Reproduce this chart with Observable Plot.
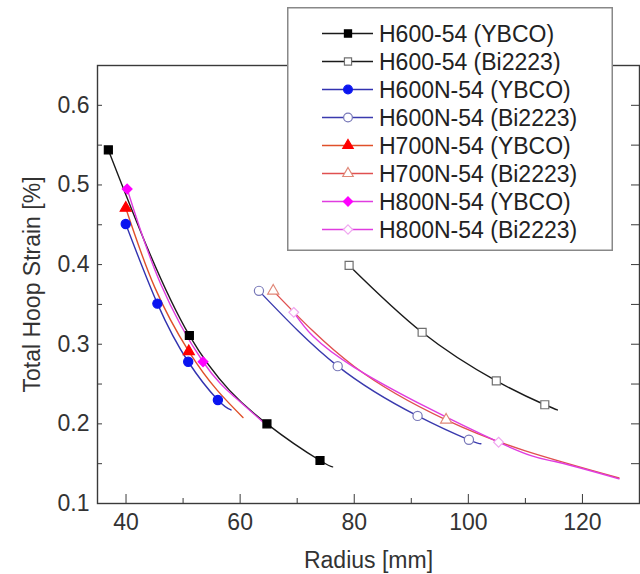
<!DOCTYPE html>
<html><head><meta charset="utf-8">
<script src="https://cdn.jsdelivr.net/npm/d3@7"></script>
<script src="https://cdn.jsdelivr.net/npm/@observablehq/plot@0.6"></script>
<style>
body{margin:0;background:#fff;}
#wrap{position:relative;width:640px;height:574px;overflow:hidden;}
#legend{position:absolute;left:287px;top:7px;}
</style>
</head><body><div id="wrap"></div>
<script>
const seriesLabels = ["H600-54 (YBCO)","H600-54 (Bi2223)","H600N-54 (YBCO)","H600N-54 (Bi2223)","H700N-54 (YBCO)","H700N-54 (Bi2223)","H800N-54 (YBCO)","H800N-54 (Bi2223)"];
const markerX = [[36.9,51.1,64.7,74.0],[79.1,91.9,104.9,113.4],[39.95,45.5,50.9,56.1],[63.3,77.1,91.1,100.1],[39.95,51.0],[65.8,96.1],[40.2,53.5],[69.4,105.3]];
const markerY = [[0.544,0.311,0.200,0.154],[0.399,0.315,0.254,0.224],[0.451,0.351,0.278,0.230],[0.367,0.2725,0.210,0.180],[0.471,0.291],[0.367,0.205],[0.495,0.278],[0.340,0.177]];
const curveX = [[36.9,51.1,64.7,74.0,76.2],[79.1,91.9,104.9,113.4,115.6],[39.95,45.5,50.9,56.1,58.4],[63.3,77.1,91.1,100.1,102.2],[39.95,45,51.0,56,60.5],[65.8,80,96.1,110,126.4],[40.2,46,53.5,59,64.2],[69.4,80,105.3,115,126.4]];
const curveY = [[0.544,0.311,0.200,0.154,0.146],[0.399,0.315,0.254,0.224,0.2175],[0.451,0.351,0.278,0.230,0.2175],[0.367,0.2725,0.210,0.180,0.175],[0.471,0.372,0.291,0.242,0.208],[0.367,0.272,0.205,0.166,0.132],[0.495,0.377,0.278,0.234,0.201],[0.340,0.271,0.177,0.153,0.131]];
const lineColors = ["#1a1a1a","#1a1a1a","#3232b0","#3a3aae","#e0502a","#e05050","#e03ce0","#e03ce0"];
const markerSymbols = ["square","square","circle","circle","triangle","triangle","diamond2","diamond2"];
const markerFills = ["#000000","#ffffff","#0a14f0","#ffffff","#ff0000","#ffffff","#ff00ff","#ffffff"];
const markerStrokes = ["#000000","#707070","#0a14f0","#7878b8","#ff0000","#e08878","#ff00ff","#f0a8f0"];
const markerR = [4.5,4.5,4.6,4.6,4.1,4.1,4.4,4.4];
const xMajorTicks = [40,60,80,100,120];
const xMinorTicks = [50,70,90,110];
const yMajorTicks = [0.1,0.2,0.3,0.4,0.5,0.6];
const yAllTicks = [0.1,0.15,0.2,0.25,0.3,0.35,0.4,0.45,0.5,0.55,0.6];

const lineTables = curveX.map((xs,i)=>xs.map((x,j)=>({x, y: curveY[i][j]})));
const dotTables = markerX.map((xs,i)=>xs.map((x,j)=>({x, y: markerY[i][j]})));

const marks = [];
lineTables.forEach((t,i)=>{
  marks.push(Plot.line(t,{x:"x",y:"y",stroke:lineColors[i],strokeWidth:1.4,curve:"natural"}));
});
dotTables.forEach((t,i)=>{
  marks.push(Plot.dot(t,{x:"x",y:"y",symbol:markerSymbols[i],r:markerR[i],fill:markerFills[i],stroke:markerStrokes[i],strokeWidth:1.2}));
});

const plot = Plot.plot({
  width: 640, height: 574,
  marginLeft: 97, marginRight: 1, marginTop: 65, marginBottom: 71,
  style: {fontFamily: "'Liberation Sans', Arial, sans-serif", fontSize: "23px", color: "#333", background: "#fff"},
  x: {domain: [35,130]},
  y: {domain: [0.1,0.65]},
  marks: [
    ...marks,
    Plot.frame({stroke:"#3a3a3a", strokeWidth:1.4}),
    Plot.axisX(xMajorTicks,{anchor:"bottom",tickSize:9,dy:-9,tickFormat:()=>"",label:null,stroke:"#3a3a3a"}),
    Plot.axisX(xMinorTicks,{anchor:"bottom",tickSize:5,dy:-5,tickFormat:()=>"",label:null,stroke:"#3a3a3a"}),
    Plot.axisX(xMajorTicks,{anchor:"bottom",tickSize:0,tickPadding:10,fill:"#333",fontSize:23,label:"Radius [mm]",labelAnchor:"center",labelArrow:"none",labelOffset:64}),
    Plot.axisY(yAllTicks,{anchor:"left",tickSize:5,dx:5,tickFormat:()=>"",label:null,stroke:"#3a3a3a"}),
    Plot.axisY(yMajorTicks,{anchor:"left",tickSize:0,tickPadding:8,fill:"#333",fontSize:23,tickFormat:d3.format(".1f"),label:"Total Hoop Strain [%]",labelAnchor:"center",labelArrow:"none",labelOffset:74}),
    Plot.axisY(yAllTicks,{anchor:"right",tickSize:9,dx:-9,tickFormat:()=>"",label:null,stroke:"#3a3a3a"})
  ]
});
const wrap = document.getElementById("wrap");
wrap.appendChild(plot);

// Legend (HTML overlay with inline SVG)
const lw = 326, lh = 244;
const leg = d3.select(wrap).append("div").attr("id","legend");
const svg = leg.append("svg").attr("width",lw).attr("height",lh);
svg.append("rect").attr("x",0.75).attr("y",0.75).attr("width",lw-1.5).attr("height",lh-1.5).attr("fill","#fff").attr("stroke","#888").attr("stroke-width",1.5);
const symMap = {square:d3.symbolSquare,circle:d3.symbolCircle,triangle:d3.symbolTriangle,diamond2:d3.symbolDiamond2};
seriesLabels.forEach((lab,i)=>{
  const cy = 26.5 + i*28;
  svg.append("line").attr("x1",35).attr("x2",86).attr("y1",cy).attr("y2",cy).attr("stroke",lineColors[i]).attr("stroke-width",1.4);
  const r = markerR[i];
  svg.append("path").attr("d",d3.symbol(symMap[markerSymbols[i]], Math.PI*r*r*(markerSymbols[i]==="square"?0.8:0.9))()).attr("transform",`translate(61,${cy})`)
    .attr("fill",markerFills[i]).attr("stroke",markerStrokes[i]).attr("stroke-width",1.2);
  svg.append("text").attr("x",92).attr("y",cy).attr("dy","0.36em").attr("font-family","'Liberation Sans', Arial, sans-serif").attr("font-size","23px").attr("fill","#222").text(lab);
});
</script>
</body></html>
